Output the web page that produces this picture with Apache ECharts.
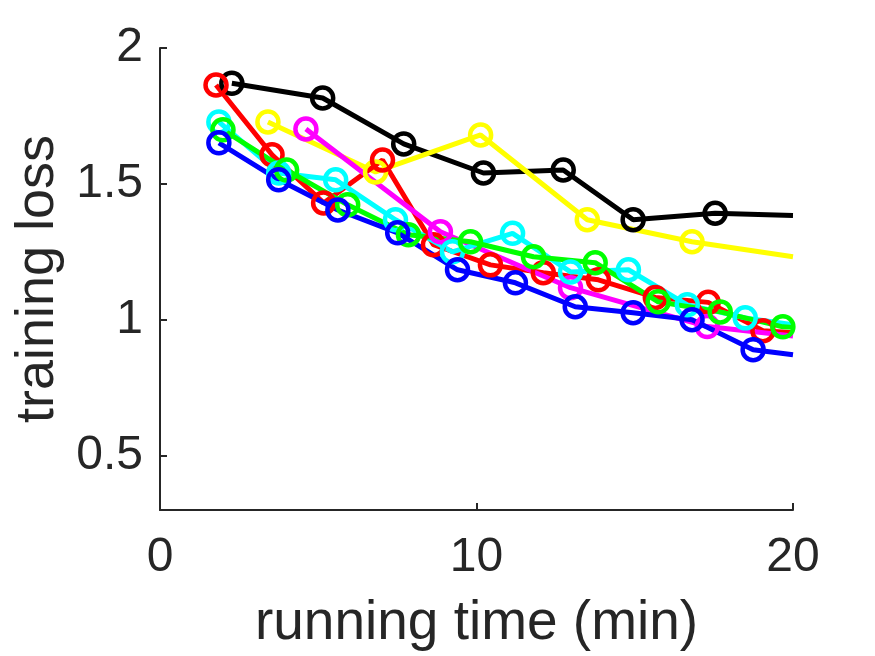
<!DOCTYPE html>
<html>
<head>
<meta charset="utf-8">
<script src="https://cdn.jsdelivr.net/npm/echarts@6/dist/echarts.min.js"></script>
<style>html,body{margin:0;padding:0;background:#fff}#c{width:875px;height:656px}</style>
</head>
<body>
<div id="c"></div>
<script>
// ---- data ----
const xTicks = [0, 10, 20];
const yTicks = [0.5, 1, 1.5, 2];

const blackX = [2.27, 5.14, 7.70, 10.22, 12.74, 14.95, 17.54, 20];
const blackY = [1.870, 1.816, 1.647, 1.540, 1.551, 1.368, 1.392, 1.384];

const yellowX = [3.41, 6.81, 10.13, 13.50, 16.81, 20];
const yellowY = [1.728, 1.544, 1.680, 1.368, 1.287, 1.232];

const redX = [1.77, 3.54, 5.17, 7.03, 8.64, 10.44, 12.11, 13.85, 15.65, 17.32, 19.05, 20];
const redY = [1.864, 1.607, 1.430, 1.588, 1.276, 1.202, 1.173, 1.147, 1.082, 1.064, 0.960, 0.952];

const magentaX = [4.61, 8.86, 12.97, 17.29, 20];
const magentaY = [1.702, 1.324, 1.118, 0.975, 0.940];

const cyanX = [1.86, 3.75, 5.55, 7.44, 9.24, 11.14, 12.97, 14.80, 16.66, 18.49, 20];
const cyanY = [1.728, 1.540, 1.515, 1.368, 1.250, 1.318, 1.176, 1.184, 1.055, 1.007, 0.982];

const greenX = [1.99, 4.00, 5.93, 7.85, 9.81, 11.80, 13.75, 15.74, 17.70, 19.68, 20];
const greenY = [1.699, 1.551, 1.423, 1.313, 1.287, 1.232, 1.210, 1.066, 1.029, 0.974, 0.972];

const blueX = [1.86, 3.75, 5.62, 7.51, 9.40, 11.23, 13.12, 14.95, 16.81, 18.74, 20];
const blueY = [1.651, 1.515, 1.404, 1.320, 1.184, 1.136, 1.048, 1.026, 1.000, 0.890, 0.871];

// ---- build ----
const axisColor = '#262626';
const font = "'Liberation Sans', Arial, Helvetica, sans-serif";

function mk(name, xs, ys, color) {
  const n = xs.length;
  return {
    name: name,
    type: 'line',
    data: xs.map((x, i) => {
      const d = { value: [x, ys[i]] };
      if (i === n - 1 && x >= 20) d.symbol = 'none';
      return d;
    }),
    symbol: 'circle',
    symbolSize: 21,
    showAllSymbol: true,
    itemStyle: { color: 'rgba(0,0,0,0)', borderColor: color, borderWidth: 4.5, borderType: 'solid' },
    lineStyle: { color: color, width: 5, type: 'solid' },
    emphasis: { disabled: true },
    animation: false,
    clip: true
  };
}

const chart = echarts.init(document.getElementById('c'), null, { renderer: 'canvas' });
chart.setOption({
  backgroundColor: '#ffffff',
  animation: false,
  grid: { left: 160, right: 82, top: 48, bottom: 146, containLabel: false },
  xAxis: {
    type: 'value',
    min: 0, max: 20, interval: 10,
    name: 'running time (min)',
    nameLocation: 'middle',
    nameGap: 86,
    nameTextStyle: { fontSize: 55, color: axisColor, fontFamily: font },
    axisLine: { show: true, lineStyle: { color: axisColor, width: 2 } },
    axisTick: { show: true, inside: true, length: 7, lineStyle: { color: axisColor, width: 2 } },
    axisLabel: { fontSize: 48, color: axisColor, fontFamily: font, margin: 24,
      customValues: xTicks },
    splitLine: { show: false }
  },
  yAxis: {
    type: 'value',
    min: 0.3, max: 2,
    name: 'training loss',
    nameLocation: 'middle',
    nameGap: 84,
    nameTextStyle: { fontSize: 54, color: axisColor, fontFamily: font },
    axisLine: { show: true, lineStyle: { color: axisColor, width: 2 } },
    axisTick: { show: true, inside: true, length: 7, lineStyle: { color: axisColor, width: 2 },
      customValues: yTicks },
    axisLabel: { fontSize: 48, color: axisColor, fontFamily: font, margin: 17,
      customValues: yTicks },
    splitLine: { show: false }
  },
  series: [
    mk('black', blackX, blackY, '#000000'),
    mk('yellow', yellowX, yellowY, '#ffff00'),
    mk('red', redX, redY, '#ff0000'),
    mk('magenta', magentaX, magentaY, '#ff00ff'),
    mk('cyan', cyanX, cyanY, '#00ffff'),
    mk('green', greenX, greenY, '#00ff00'),
    mk('blue', blueX, blueY, '#0000ff')
  ]
});
</script>
</body>
</html>
